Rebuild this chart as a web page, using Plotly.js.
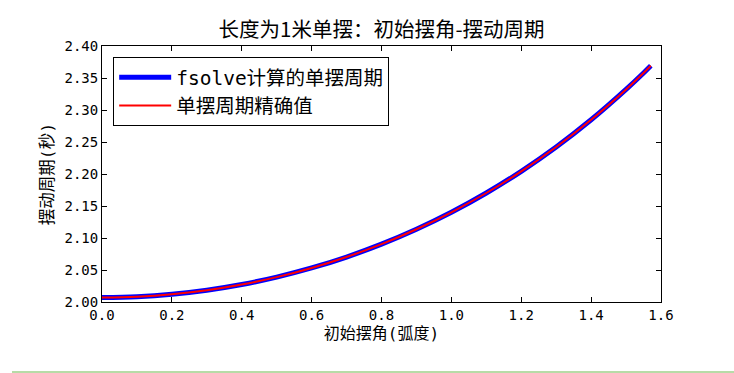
<!DOCTYPE html>
<html>
<head>
<meta charset="utf-8">
<script src="https://cdn.plot.ly/plotly-3.0.1.min.js"></script>
<style>html,body{margin:0;padding:0;background:#fff;}#chart{width:734px;height:373px;}</style>
</head>
<body>
<div id="chart"></div>
<script>
// Initial angle (radians) and period (seconds)
var angles = [0.0, 0.1, 0.2, 0.3, 0.4, 0.5, 0.6, 0.7, 0.8, 0.9, 1.0, 1.1, 1.2, 1.3, 1.4, 1.5, 1.55, 1.5708];
var periodFsolve = [2.0071, 2.0083, 2.0121, 2.0184, 2.0273, 2.0389, 2.0532, 2.0703, 2.0904, 2.1137, 2.1402, 2.1703, 2.2042, 2.2422, 2.2847, 2.3322, 2.3578, 2.3691];
var periodExact = [2.0071, 2.0083, 2.0121, 2.0184, 2.0273, 2.0389, 2.0532, 2.0703, 2.0904, 2.1137, 2.1402, 2.1703, 2.2042, 2.2422, 2.2847, 2.3322, 2.3578, 2.3691];
var seriesNames = ["fsolve计算的单摆周期", "单摆周期精确值"];

var cjk = '"Noto Sans CJK SC", "DejaVu Sans", sans-serif';
var mono = '"DejaVu Sans Mono", "Noto Sans CJK SC", monospace';

var traces = [
  {x: angles, y: periodFsolve, name: seriesNames[0], mode: 'lines', type: 'scatter',
   line: {color: '#0000ff', width: 5, shape: 'spline'}},
  {x: angles, y: periodExact, name: seriesNames[1], mode: 'lines', type: 'scatter',
   line: {color: '#ff0000', width: 2, shape: 'spline'}}
];

var axisCommon = {
  showgrid: false, zeroline: false, showline: true, linecolor: '#000', linewidth: 1,
  mirror: 'allticks', ticks: 'inside', ticklen: 5, tickcolor: '#000', tickwidth: 1,
  tickfont: {family: mono, size: 14, color: '#000'}
};

var layout = {
  width: 734, height: 373,
  margin: {l: 102, r: 73, t: 46, b: 71},
  paper_bgcolor: '#fff', plot_bgcolor: '#fff',
  title: {text: '长度为1米单摆：初始摆角-摆动周期', font: {family: cjk, size: 20.5, color: '#000'},
          x: 0.5 * (102 + 661) / 734, xanchor: 'center', y: 1 - 30 / 373, yanchor: 'middle'},
  xaxis: Object.assign({}, axisCommon, {
    range: [0, 1.6], dtick: 0.2, tick0: 0, tickformat: '.1f',
    title: {text: '初始摆角(弧度)', font: {family: mono, size: 16, color: '#000'}, standoff: 6}
  }),
  yaxis: Object.assign({}, axisCommon, {
    range: [2.0, 2.4], dtick: 0.05, tick0: 2.0, tickformat: '.2f',
    title: {text: '摆动周期(秒)', font: {family: mono, size: 16.5, color: '#000'}, standoff: 6}
  }),
  legend: {x: 0.02, y: 0.957, xanchor: 'left', yanchor: 'top',
    bordercolor: '#000', borderwidth: 1, bgcolor: '#fff', itemwidth: 52,
    font: {family: mono, size: 19.5, color: '#000'}},
  showlegend: true,
  shapes: [{type: 'line', xref: 'paper', yref: 'paper',
    x0: -0.161, x1: 1.14, y0: -0.273, y1: -0.273,
    line: {color: '#9fcf8a', width: 1.5}}]
};

Plotly.newPlot('chart', traces, layout, {displayModeBar: false, staticPlot: true});
</script>
</body>
</html>
